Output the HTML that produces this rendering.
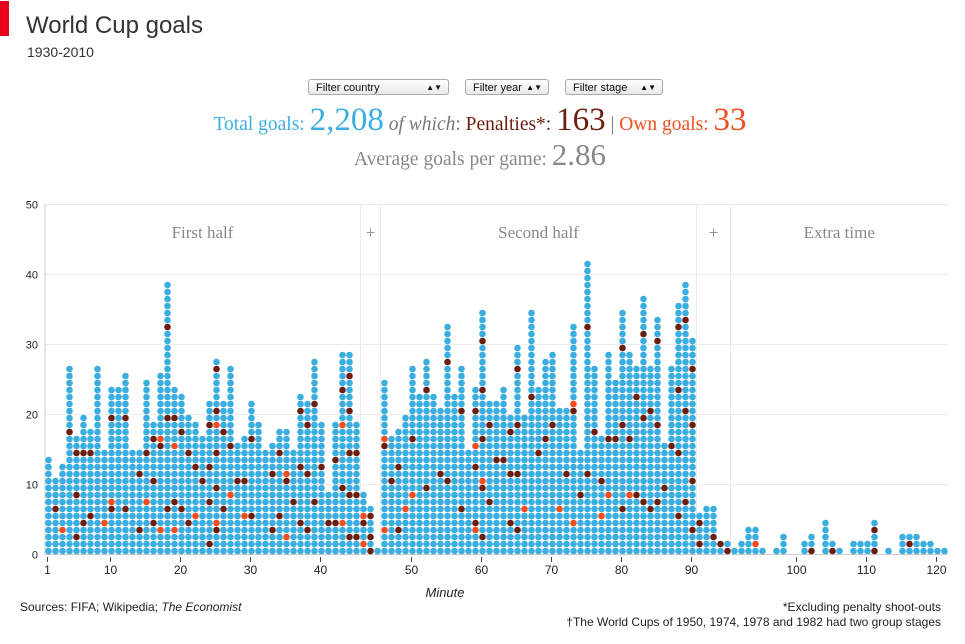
<!DOCTYPE html>
<html><head><meta charset="utf-8"><style>
body{margin:0;background:#fff;width:965px;height:644px;overflow:hidden;font-family:"Liberation Sans",sans-serif;}
.sel{position:absolute;top:79px;height:16px;border:1px solid #aaa;border-radius:3px;background:linear-gradient(#fff,#e8e8e8);font-size:11px;line-height:16px;padding-left:7px;box-sizing:border-box;color:#111}
.sel span{position:absolute;right:6px;top:0;font-size:8px}
</style></head><body>
<div style="position:absolute;left:0;top:1px;width:9px;height:35px;background:#e8001c"></div>
<div style="position:absolute;left:26px;top:12px;font-size:24px;color:#333">World Cup goals</div>
<div style="position:absolute;left:27px;top:44px;font-size:14px;color:#333">1930-2010</div>
<div class="sel" style="left:308px;width:141px">Filter country<span>&#9650;&#9660;</span></div>
<div class="sel" style="left:465px;width:84px">Filter year<span>&#9650;&#9660;</span></div>
<div class="sel" style="left:565px;width:98px">Filter stage<span>&#9650;&#9660;</span></div>
<div style="position:absolute;left:0;width:960px;top:102px;text-align:center;font-family:'Liberation Serif',serif;font-size:19.5px;white-space:nowrap">
<span style="color:#3aaee0">Total goals: <span style="font-size:33px">2,208</span></span> <span style="color:#777"><i>of which</i>:</span> <span style="color:#6b1e0e">Penalties*: <span style="font-size:33px">163</span></span> <span style="color:#777">|</span> <span style="color:#f04e1e">Own goals: <span style="font-size:33px">33</span></span>
</div>
<div style="position:absolute;left:0;width:960px;top:137px;text-align:center;font-family:'Liberation Serif',serif;font-size:19.5px;color:#888">Average goals per game: <span style="font-size:31px">2.86</span></div>
<svg id="chart" width="965" height="644" style="position:absolute;left:0;top:0"></svg>
<div style="position:absolute;left:20px;top:600px;font-size:12px;color:#222">Sources: FIFA; Wikipedia; <i>The Economist</i></div>
<div style="position:absolute;right:24px;top:600px;font-size:12px;color:#222">*Excluding penalty shoot-outs</div>
<div style="position:absolute;right:24px;top:615px;font-size:12px;color:#222">†The World Cups of 1950, 1974, 1978 and 1982 had two group stages</div>
<script>
// slot order: minutes 1-45, 45+ (3 slots), 46-90, 90+ (5 slots), 91-121
const totals=[14,11,13,27,17,20,18,27,15,24,24,26,15,15,25,19,26,39,24,23,20,19,17,22,
28,22,27,16,17,22,19,15,16,18,18,15,23,22,28,19,9,19,29,29,19,
9,7,1,
25,17,18,20,27,23,28,23,21,33,23,27,15,24,35,22,22,24,20,30,20,35,
24,28,29,21,21,33,15,42,27,17,29,25,35,29,27,37,27,34,16,27,36,39,31,
6,7,7,2,2,
1,2,4,4,1,0,1,3,0,0,2,3,0,5,2,1,0,2,2,2,5,0,1,0,3,3,3,2,2,1,1];
const penalties=[0,1,0,1,3,2,2,0,0,2,0,2,0,2,1,3,1,3,2,2,2,1,1,4,
5,2,1,1,1,2,0,0,2,2,1,1,3,3,2,1,1,2,2,5,3,
1,3,0,
1,1,2,0,1,0,2,0,1,2,0,2,0,3,5,2,1,1,3,4,0,1,
1,1,1,0,1,1,1,2,1,1,1,1,3,1,2,3,2,3,1,1,4,3,4,
2,0,1,1,1,
0,0,0,0,0,0,0,0,0,0,0,1,0,0,1,0,0,0,0,0,2,0,0,0,0,1,0,0,0,0,0];
const ownGoals=[0,0,1,0,0,0,0,0,1,1,0,0,0,0,1,0,2,0,2,0,0,1,0,0,
2,0,1,0,1,0,0,0,0,0,2,0,0,0,0,0,0,0,2,0,0,
2,0,0,
2,0,0,1,1,0,0,0,0,0,0,0,0,2,1,0,0,0,0,0,1,0,
0,0,0,1,0,2,0,0,0,1,1,0,0,1,0,0,0,0,0,0,0,0,0,
0,0,0,0,0,
0,0,0,1,0,0,0,0,0,0,0,0,0,0,0,0,0,0,0,0,0,0,0,0,0,0,0,0,0,0,0];
const yTicks=[0,10,20,30,40,50];
const xTickMinutes=[1,10,20,30,40,50,60,70,80,90,100,110,120];
const sections=["First half","+","Second half","+","Extra time"];

const NS="http://www.w3.org/2000/svg",svg=document.getElementById('chart');
function mk(t,a,txt){const e=document.createElementNS(NS,t);for(const k in a)e.setAttribute(k,a[k]);if(txt!==undefined)e.textContent=txt;svg.appendChild(e);return e;}
function xSlot(i){return 48+i*7;}
function slotOfMinute(m){return m<=45?m-1:(m<=90?m+2:m+7);}
function y(v){return 554.5-v*7;}
yTicks.forEach(v=>{
 const g=mk('line',{x1:45,x2:948,y1:y(v),y2:y(v),stroke:v===0?'#ccc':'#ebebeb','stroke-width':1});
 
 const t=mk('text',{x:38,y:y(v)+4,'text-anchor':'end','font-size':11,fill:'#222','font-family':'Liberation Sans'},String(v));
 
});
const ax=mk('line',{x1:45,x2:45,y1:204,y2:555,stroke:'#ccc'});

const bounds=[[44.5,360.5],[360.5,380.5],[380.5,696.5],[696.5,730.5],[730.5,948]];
[360.5,380.5,696.5,730.5].forEach(x=>{const l=mk('line',{x1:x,x2:x,y1:204,y2:555,stroke:'#ebebeb'});
 });
sections.forEach((s,i)=>{const t=mk('text',{x:(bounds[i][0]+bounds[i][1])/2,y:238,'text-anchor':'middle','font-size':17,fill:'#888','font-family':'Liberation Serif'},s);
 });
totals.forEach((n,i)=>{
 const col=new Array(n).fill('#3aaee0');
 const p=penalties[i],o=ownGoals[i];
 for(let k=0;k<o;k++){const r=Math.min(n-1,Math.floor((k+0.3)*n/o));col[r]='#f04e1e';}
 for(let k=0;k<p;k++){let r=Math.min(n-1,Math.floor((k+0.65)*n/p-(i%3)));if(r<0)r=0;if(col[r]!=='#3aaee0'&&r>0)r--;col[r]='#6b1e0e';}
 for(let r=0;r<n;r++){
  const c=mk('circle',{cx:xSlot(i)+0.5,cy:551-r*7,r:3.3,fill:col[r]});
  
  
 }
});
xTickMinutes.forEach(m=>{const x=xSlot(slotOfMinute(m))-0.5;
 const l=mk('line',{x1:x,x2:x,y1:557,y2:562,stroke:'#444'});
 
 const t=mk('text',{x:x,y:574,'text-anchor':'middle','font-size':12,fill:'#222','font-family':'Liberation Sans'},String(m));
 });
const xt=mk('text',{x:445,y:597,'text-anchor':'middle','font-size':13,'font-style':'italic',fill:'#222','font-family':'Liberation Sans'},'Minute');

</script>
</body></html>
